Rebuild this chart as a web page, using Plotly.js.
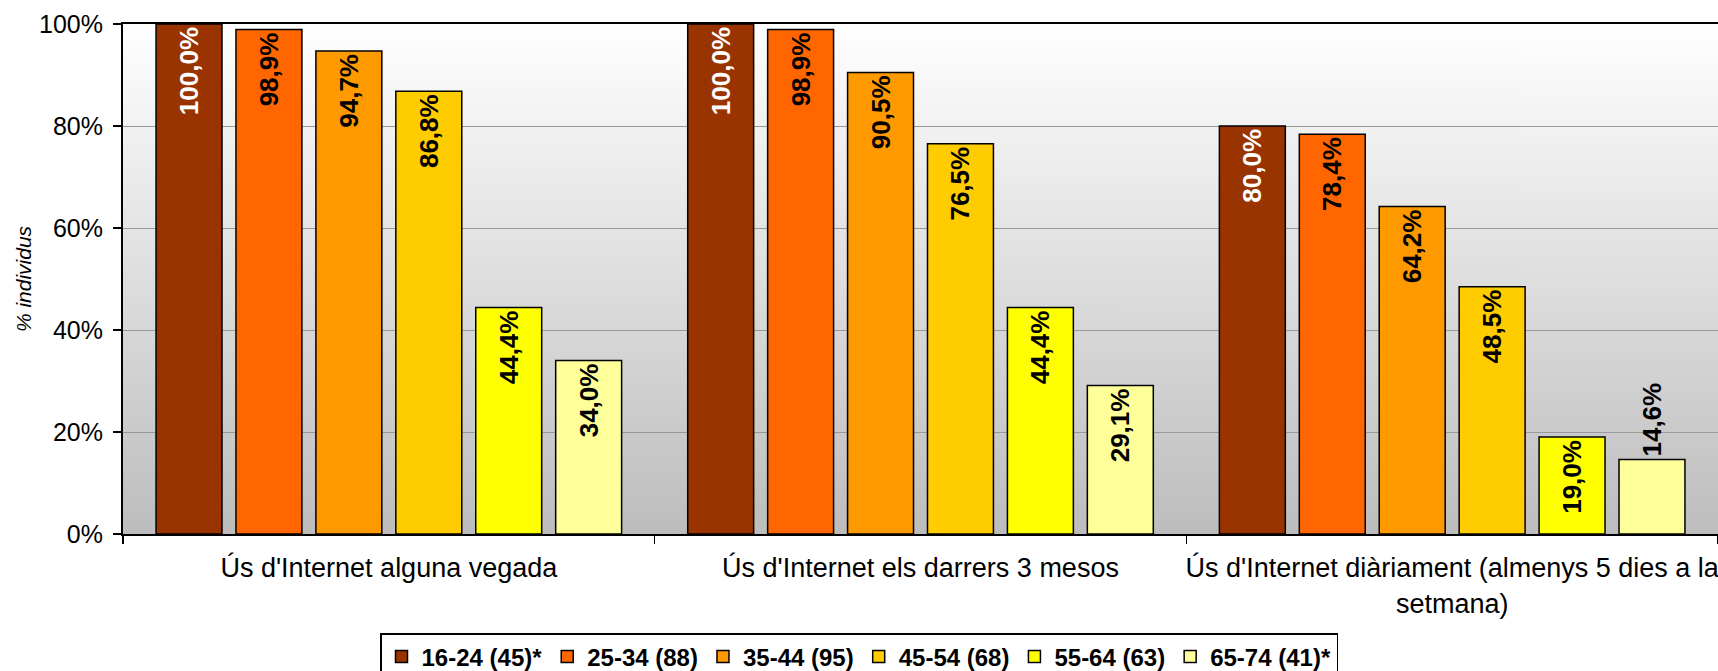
<!DOCTYPE html>
<html>
<head>
<meta charset="utf-8">
<script src="https://cdn.plot.ly/plotly-3.0.1.min.js"></script>
<style>html,body{margin:0;padding:0;background:#fff;} #chart{width:1718px;height:671px;}</style>
</head>
<body>
<div id="chart"></div>
<script>
// ---- data ----
const categories = ["Ús d'Internet alguna vegada", "Ús d'Internet els darrers 3 mesos", "Ús d'Internet diàriament (almenys 5 dies a la<br>setmana)"];
const seriesNames = ["16-24 (45)*", "25-34 (88)", "35-44 (95)", "45-54 (68)", "55-64 (63)", "65-74 (41)*"];
const s1624 = [100.0, 100.0, 80.0];
const s2534 = [98.9, 98.9, 78.4];
const s3544 = [94.7, 90.5, 64.2];
const s4554 = [86.8, 76.5, 48.5];
const s5564 = [44.4, 44.4, 19.0];
const s6574 = [34.0, 29.1, 14.6];
const yTicks = [0, 20, 40, 60, 80, 100];
const yTickLabels = ["0%", "20%", "40%", "60%", "80%", "100%"];

// ---- styles ----
const colors = ["#993300", "#FF6600", "#FF9900", "#FFCC00", "#FFFF00", "#FFFF99"];
const labelColors = ["#ffffff", "#000000", "#000000", "#000000", "#000000", "#000000"];
const FONT = "Liberation Sans, Arial, sans-serif";
const allSeries = [s1624, s2534, s3544, s4554, s5564, s6574];

function fmt(v) { return v.toFixed(1).replace('.', ',') + '%'; }

const traces = allSeries.map((vals, i) => ({
  type: 'bar',
  name: seriesNames[i],
  x: categories,
  y: vals,
  text: vals.map(fmt),
  textposition: i === 5 ? ['inside', 'inside', 'outside'] : 'inside',
  insidetextanchor: 'end',
  textangle: -90,
  constraintext: 'none',
  cliponaxis: false,
  insidetextfont: {family: FONT, size: 26, color: labelColors[i], weight: 'bold'},
  outsidetextfont: {family: FONT, size: 26, color: '#000000', weight: 'bold'},
  marker: {color: colors[i], line: {color: '#000000', width: 1.5}},
  hoverinfo: 'none'
}));

// gradient background image
const cv = document.createElement('canvas');
cv.width = 4; cv.height = 512;
const ctx = cv.getContext('2d');
const g = ctx.createLinearGradient(0, 0, 0, 512);
g.addColorStop(0, '#ffffff');
g.addColorStop(1, '#bdbdbd');
ctx.fillStyle = g;
ctx.fillRect(0, 0, 4, 512);
const bgUrl = cv.toDataURL('image/png');

const layout = {
  width: 1718,
  height: 671,
  margin: {l: 123, r: 0, t: 24, b: 137, pad: 0},
  paper_bgcolor: '#ffffff',
  plot_bgcolor: 'rgba(0,0,0,0)',
  font: {family: FONT, color: '#000000'},
  barmode: 'group',
  bargap: 0.098,
  bargroupgap: 0.175,
  showlegend: true,
  images: [{
    source: bgUrl, xref: 'paper', yref: 'paper', x: 0, y: 1, sizex: 1, sizey: 1,
    sizing: 'stretch', xanchor: 'left', yanchor: 'top', layer: 'below'
  }],
  xaxis: {
    type: 'category',
    tickson: 'boundaries',
    tickangle: 0,
    ticks: 'outside', ticklen: 8, tickwidth: 1.5, tickcolor: '#000',
    showline: true, linecolor: '#000', linewidth: 2, mirror: true,
    showgrid: false,
    tickfont: {family: FONT, size: 27, color: '#000'},
    ticklabelstandoff: 9
  },
  yaxis: {
    range: [0, 100],
    tickmode: 'array',
    tickvals: yTicks,
    ticktext: yTickLabels,
    ticks: 'outside', ticklen: 8, tickwidth: 1.5, tickcolor: '#000',
    showline: true, linecolor: '#000', linewidth: 2,
    showgrid: true, gridcolor: '#999999', gridwidth: 1,
    zeroline: false,
    tickfont: {family: FONT, size: 25, color: '#000'},
    ticklabelstandoff: 5,
    title: {text: '% individus', font: {family: FONT, size: 21, style: 'italic', color: '#000'}, standoff: 2}
  },
  legend: {
    orientation: 'h',
    xref: 'container', yref: 'container',
    x: 0.5, xanchor: 'center',
    y: 1 - 633 / 671, yanchor: 'top',
    bordercolor: '#000', borderwidth: 1.5, bgcolor: '#ffffff',
    font: {family: FONT, size: 24, color: '#000', weight: 'bold'},
    itemwidth: 30,
    traceorder: 'normal'
  }
};

Plotly.newPlot('chart', traces, layout, {displayModeBar: false, staticPlot: true});
</script>
</body>
</html>
